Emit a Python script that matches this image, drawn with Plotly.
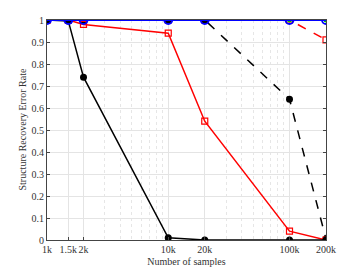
import plotly.graph_objects as go

samples = [1000, 1500, 2000, 10000, 20000, 100000, 200000]
tick_labels = ["1k", "1.5k", "2k", "10k", "20k", "100k", "200k"]
black_solid = [1.0, 0.995, 0.74, 0.01, 0.0, 0.0, 0.0]
red_solid = [1.0, 1.0, 0.98, 0.94, 0.54, 0.04, 0.0]
black_dash = [1.0, 1.0, 1.0, 1.0, 1.0, 0.64, 0.005]
red_dash = [1.0, 1.0, 1.0, 1.0, 1.0, 1.0, 0.91]
green_ref = [1.0, 1.0, 1.0, 1.0, 1.0, 1.0, 1.0]
blue_solid = [1.0, 1.0, 1.0, 1.0, 1.0, 1.0, 1.0]
y_ticks = [0, 0.1, 0.2, 0.3, 0.4, 0.5, 0.6, 0.7, 0.8, 0.9, 1]
y_labels = ["0", "0.1", "0.2", "0.3", "0.4", "0.5", "0.6", "0.7", "0.8", "0.9", "1"]
minor_x = [3000, 4000, 5000, 6000, 7000, 8000, 9000, 30000, 40000, 50000, 60000, 70000, 80000, 90000]

fig = go.Figure()
fig.add_trace(go.Scatter(x=samples, y=green_ref, mode="lines+markers",
                         line=dict(color="#00a000", width=1.2, dash="dash"),
                         marker=dict(symbol="circle", size=5, color="#00c000")))
fig.add_trace(go.Scatter(x=samples, y=red_dash, mode="lines+markers",
                         line=dict(color="red", width=1.5, dash="dash"),
                         marker=dict(symbol="square-open", size=6, color="red", line=dict(width=1.2))))
fig.add_trace(go.Scatter(x=samples, y=black_dash, mode="lines+markers",
                         line=dict(color="black", width=1.5, dash="dash"),
                         marker=dict(symbol="circle", size=7, color="black")))
fig.add_trace(go.Scatter(x=samples, y=red_solid, mode="lines+markers",
                         line=dict(color="red", width=1.5),
                         marker=dict(symbol="square-open", size=6, color="red", line=dict(width=1.2))))
fig.add_trace(go.Scatter(x=samples, y=black_solid, mode="lines+markers",
                         line=dict(color="black", width=1.5),
                         marker=dict(symbol="circle", size=7, color="black")))
fig.add_trace(go.Scatter(x=samples, y=blue_solid, mode="lines+markers",
                         line=dict(color="blue", width=1.8),
                         marker=dict(symbol="circle-open", size=8, color="blue", line=dict(width=1.8))))

fig.update_layout(
    width=352, height=262,
    margin=dict(l=39, r=34, t=12, b=30),
    paper_bgcolor="white", plot_bgcolor="white",
    showlegend=False,
    font=dict(family="Liberation Serif", size=10, color="#333"),
    annotations=[dict(text="Structure Recovery Error Rate", xref="paper", yref="paper",
                      x=0, y=0.5, xanchor="right", yanchor="middle", xshift=-18,
                      textangle=-90, showarrow=False, font=dict(size=10, color="#333"))],
)
fig.update_xaxes(
    type="log", range=[3, 5.30103],
    tickmode="array", tickvals=samples, ticktext=tick_labels, tickangle=0,
    showgrid=True, gridcolor="#e4e4e4", gridwidth=1,
    ticks="inside", ticklen=3, tickcolor="#444",
    showline=True, linecolor="#444", linewidth=1, mirror=True,
    minor=dict(tickmode="array", tickvals=minor_x, showgrid=True,
               gridcolor="#e6e6e6", griddash="dot", ticks=""),
    title=dict(text="Number of samples", font=dict(size=10, color="#333"), standoff=3),
    zeroline=False, automargin=False,
)
fig.update_yaxes(
    range=[0, 1], tickmode="array", tickvals=y_ticks, ticktext=y_labels,
    showgrid=True, gridcolor="#e4e4e4", gridwidth=1,
    ticks="inside", ticklen=3, tickcolor="#444",
    showline=True, linecolor="#444", linewidth=1, mirror="ticks",
    zeroline=False, automargin=False,
)
fig.write_html("out.html")
